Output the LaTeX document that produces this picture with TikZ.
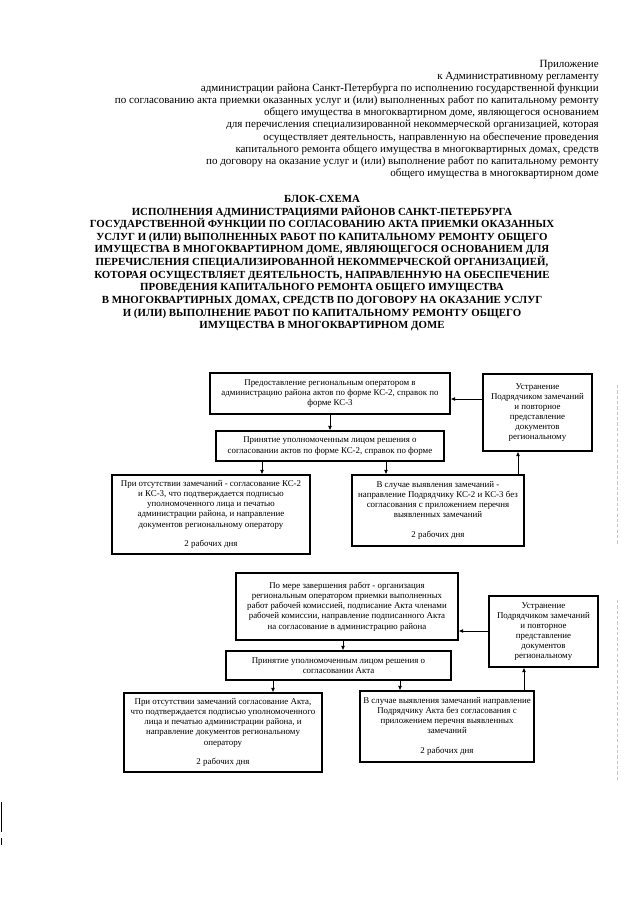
\documentclass[tikz,border=0pt]{standalone}
\usepackage{fontspec}
\setmainfont{Liberation Serif}
\usetikzlibrary{arrows.meta}
\begin{document}
\begin{tikzpicture}[x=0.328125mm,y=-0.328125mm,
  box/.style={draw, line width=1.1pt, inner sep=1pt, font=\fontsize{8.3}{9.5}\selectfont, align=center},
  rect/.style n args={2}{minimum width=#1*0.328125mm, minimum height=#2*0.328125mm},
  arr/.style={-{Latex[length=4.2pt,width=3.8pt]}, line width=0.9pt},
  hdr/.style={inner sep=0pt, align=right, font=\fontsize{10.3}{11.3}\selectfont},
  ttl/.style={inner sep=0pt, align=center, font=\fontsize{10.15}{11.8}\selectfont\bfseries},
  scan/.style={line width=0.8pt, gray!45, dash pattern=on 3pt off 2pt},
]
\useasboundingbox (0,0) rectangle (640,905);
\fill[white] (0,0) rectangle (640,905);

\node[hdr, anchor=north east] (hdr) at (599,60) {Приложение\\
к Административному регламенту\\
администрации района Санкт-Петербурга по исполнению государственной функции\\
по согласованию акта приемки оказанных услуг и (или) выполненных работ по капитальному ремонту\\
общего имущества в многоквартирном доме, являющегося основанием\\
для перечисления специализированной некоммерческой организацией, которая\\
осуществляет деятельность, направленную на обеспечение проведения\\
капитального ремонта общего имущества в многоквартирных домах, средств\\
по договору на оказание услуг и (или) выполнение работ по капитальному ремонту\\
общего имущества в многоквартирном доме};

\node[ttl, anchor=north] (ttl) at (322,195) {БЛОК-СХЕМА\\
ИСПОЛНЕНИЯ АДМИНИСТРАЦИЯМИ РАЙОНОВ САНКТ-ПЕТЕРБУРГА\\
ГОСУДАРСТВЕННОЙ ФУНКЦИИ ПО СОГЛАСОВАНИЮ АКТА ПРИЕМКИ ОКАЗАННЫХ\\
УСЛУГ И (ИЛИ) ВЫПОЛНЕННЫХ РАБОТ ПО КАПИТАЛЬНОМУ РЕМОНТУ ОБЩЕГО\\
ИМУЩЕСТВА В МНОГОКВАРТИРНОМ ДОМЕ, ЯВЛЯЮЩЕГОСЯ ОСНОВАНИЕМ ДЛЯ\\
ПЕРЕЧИСЛЕНИЯ СПЕЦИАЛИЗИРОВАННОЙ НЕКОММЕРЧЕСКОЙ ОРГАНИЗАЦИЕЙ,\\
КОТОРАЯ ОСУЩЕСТВЛЯЕТ ДЕЯТЕЛЬНОСТЬ, НАПРАВЛЕННУЮ НА ОБЕСПЕЧЕНИЕ\\
ПРОВЕДЕНИЯ КАПИТАЛЬНОГО РЕМОНТА ОБЩЕГО ИМУЩЕСТВА\\
В МНОГОКВАРТИРНЫХ ДОМАХ, СРЕДСТВ ПО ДОГОВОРУ НА ОКАЗАНИЕ УСЛУГ\\
И (ИЛИ) ВЫПОЛНЕНИЕ РАБОТ ПО КАПИТАЛЬНОМУ РЕМОНТУ ОБЩЕГО\\
ИМУЩЕСТВА В МНОГОКВАРТИРНОМ ДОМЕ};

% ---- block 1 ----
\node[box, rect={240}{41}] (A) at (330,393.5) {Предоставление региональным оператором в\\
администрацию района актов по форме КС-2, справок по\\
форме КС-3};
\node[box, rect={109}{77}] (E) at (537.5,412.5) {Устранение\\
Подрядчиком замечаний\\
и повторное\\
представление\\
документов\\
региональному};
\node[box, rect={228}{30}] (B) at (330,446) {Принятие уполномоченным лицом решения о\\
согласовании актов по форме КС-2, справок по форме};
\node[box, rect={198}{79}] (C) at (211,514.5) {При отсутствии замечаний - согласование КС-2\\
и КС-3, что подтверждается подписью\\
уполномоченного лица и печатью\\
администрации района, и направление\\
документов региональному оператору\\[9pt]
2 рабочих дня};
\node[box, rect={172}{71}] (D) at (438,510.5) {В случае выявления замечаний -\\
направление Подрядчику КС-2 и КС-3 без\\
согласования с приложением перечня\\
выявленных замечаний\\[9pt]
2 рабочих дня};

\coordinate (x1) at (262,0);
\coordinate (x2) at (386,0);
\coordinate (x3) at (518,0);
\coordinate (y1) at (0,399);

\draw[arr] (A.south) -- (A.south |- B.north);
\draw[arr] (B.south -| x1) -- (C.north -| x1);
\draw[arr] (B.south -| x2) -- (D.north -| x2);
\draw[arr] (D.north -| x3) -- (E.south -| x3);
\draw[arr] (E.west |- y1) -- (A.east |- y1);

% ---- block 2 ----
\node[box, rect={222}{67}] (F) at (347,606.5) {По мере завершения работ - организация\\
региональным оператором приемки выполненных\\
работ рабочей комиссией, подписание Акта членами\\
рабочей комиссии, направление подписанного Акта\\
на согласование в администрацию района};
\node[box, rect={109}{71}] (G) at (543.5,631.5) {Устранение\\
Подрядчиком замечаний\\
и повторное\\
представление\\
документов\\
региональному};
\node[box, rect={225}{29}] (H) at (338.5,665.5) {Принятие уполномоченным лицом решения о\\
согласовании Акта};
\node[box, rect={198}{79}] (I) at (223,732.5) {При отсутствии замечаний согласование Акта,\\
что подтверждается подписью уполномоченного\\
лица и печатью администрации района, и\\
направление документов региональному\\
оператору\\[9pt]
2 рабочих дня};
\node[box, rect={174}{71}] (J) at (447,726.5) {В случае выявления замечаний направление\\
Подрядчику Акта без согласования с\\
приложением перечня выявленных\\
замечаний\\[9pt]
2 рабочих дня};

\coordinate (x4) at (343,0);
\coordinate (x5) at (273,0);
\coordinate (x6) at (400,0);
\coordinate (x7) at (524,0);
\coordinate (y2) at (0,631);

\draw[arr] (F.south -| x4) -- (H.north -| x4);
\draw[arr] (H.south -| x5) -- (I.north -| x5);
\draw[arr] (H.south -| x6) -- (J.north -| x6);
\draw[arr] (J.north -| x7) -- (G.south -| x7);
\draw[arr] (G.west |- y2) -- (F.east |- y2);

% scan marks at the page edges
\draw[line width=1.2pt] (1.5,802) -- (1.5,832);
\draw[line width=1.2pt] (1.5,838) -- (1.5,845);
\draw[scan] (617,385) -- (617,545);
\draw[scan] (617,600) -- (617,780);
\end{tikzpicture}
\end{document}
